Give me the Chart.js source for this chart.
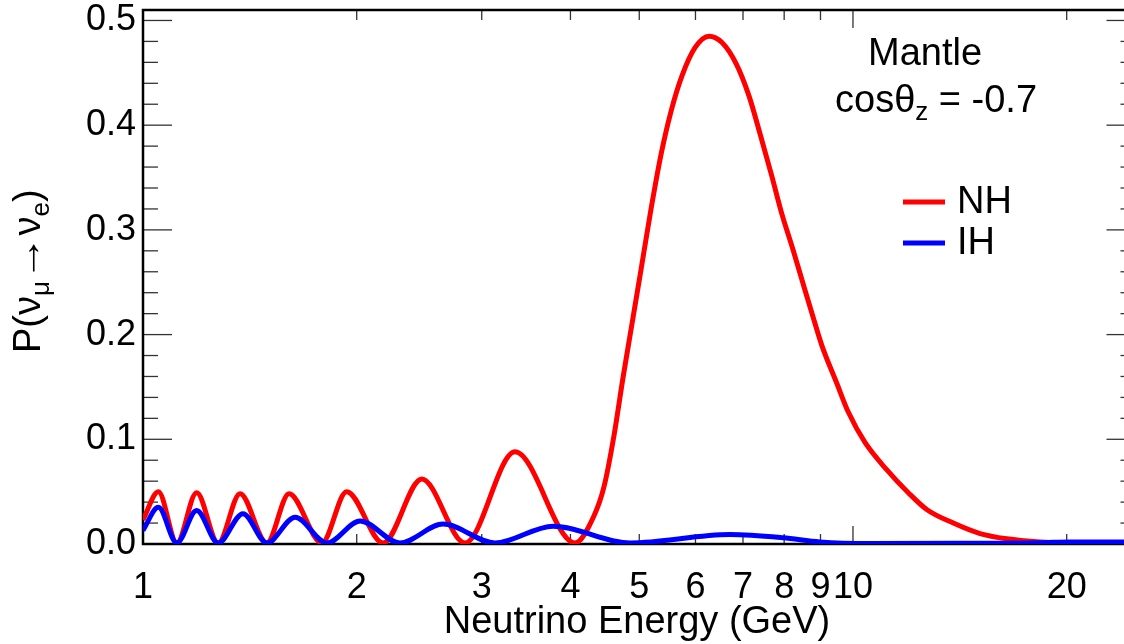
<!DOCTYPE html>
<html>
<head>
<meta charset="utf-8">
<script src="https://cdn.jsdelivr.net/npm/chart.js@4.4.1/dist/chart.umd.min.js"></script>
<style>
html, body { margin: 0; padding: 0; overflow: hidden; background: #fff; }
#wrap { width: 1150px; height: 644px; }
</style>
</head>
<body>
<div id="wrap"><canvas id="prob" width="1150" height="644"></canvas></div>
<script>
// Normal hierarchy (red)
const nhEnergy = [1.0, 1.051, 1.116, 1.190, 1.276, 1.370, 1.494, 1.606, 1.786, 1.936, 2.178, 2.470, 2.842, 3.341, 4.060,
    4.318, 4.461, 4.608, 4.744, 4.869, 5.029, 5.195, 5.366, 5.542, 5.743, 5.991, 6.269, 6.539, 6.843, 7.137, 7.396,
    7.681, 7.934, 8.225, 8.511, 8.775, 9.036, 9.483, 9.849, 10.397, 11.155, 11.965, 12.701, 13.847, 15.100, 16.465,
    18.341, 20.215, 25];
const nhProb = [0.023, 0.050, 0.001, 0.049, 0.001, 0.048, 0.001, 0.048, 0.001, 0.050, 0.001, 0.062, 0.001, 0.088, 0.001,
    0.027, 0.055, 0.104, 0.159, 0.205, 0.262, 0.320, 0.372, 0.413, 0.447, 0.474, 0.485, 0.479, 0.459, 0.428, 0.392,
    0.352, 0.316, 0.282, 0.248, 0.218, 0.190, 0.154, 0.126, 0.097, 0.071, 0.049, 0.033, 0.020, 0.010, 0.005,
    0.002, 0.001, 0.001];

// Inverted hierarchy (blue)
const ihEnergy = [1.0, 1.051, 1.116, 1.190, 1.276, 1.383, 1.494, 1.638, 1.815, 2.022, 2.301, 2.646, 3.131, 3.781,
    4.853, 6.711, 7.970, 8.980, 10.57, 14.15, 18.34, 20.2, 25];
const ihProb = [0.013, 0.035, 0.001, 0.032, 0.001, 0.029, 0.001, 0.0255, 0.001, 0.022, 0.001, 0.019, 0.001, 0.017,
    0.001, 0.009, 0.006, 0.002, 0.0005, 0.0007, 0.0012, 0.002, 0.002];

const xTickValues = [1, 2, 3, 4, 5, 6, 7, 8, 9, 10, 20];
const yTickValues = [0, 0.1, 0.2, 0.3, 0.4, 0.5];

const FONT = "'Liberation Sans', Arial, Helvetica, sans-serif";

function toPoints(xs, ys) {
    return xs.map((x, i) => ({ x: x, y: ys[i] }));
}

// ROOT-like frame with inward ticks, titles, labels and legend
const rootStyle = {
    id: 'rootStyle',
    beforeDatasetsDraw(chart) {
        const { ctx, chartArea: a, scales } = chart;
        const xs = scales.x, ys = scales.y;
        const seg = (x1, y1, x2, y2) => { ctx.beginPath(); ctx.moveTo(x1, y1); ctx.lineTo(x2, y2); ctx.stroke(); };
        ctx.save();
        ctx.strokeStyle = '#333';
        ctx.lineWidth = 1.3;
        for (let i = 0; i <= 25; i++) {
            const py = ys.getPixelForValue(i * 0.02);
            const len = i % 5 === 0 ? 29 : 15;
            seg(a.left, py, a.left + len, py);
            seg(a.right, py, a.right - len, py);
        }
        xTickValues.forEach(v => {
            const px = xs.getPixelForValue(v);
            const len = v === 10 ? 18 : 10;
            seg(px, a.bottom, px, a.bottom - len);
            seg(px, a.top, px, a.top + len);
        });
        ctx.strokeStyle = '#000';
        ctx.lineWidth = 2.5;
        ctx.strokeRect(a.left, a.top, a.right - a.left, a.bottom - a.top);
        ctx.restore();
    },
    afterDraw(chart) {
        const ctx = chart.ctx;
        const big = '38px ' + FONT, small = '26px ' + FONT;
        ctx.save();
        ctx.fillStyle = '#000';
        ctx.textBaseline = 'alphabetic';
        ctx.textAlign = 'left';

        // x title
        ctx.font = big;
        ctx.textAlign = 'center';
        ctx.fillText('Neutrino Energy (GeV)', 637, 633);
        ctx.textAlign = 'left';

        // y title with subscripts, long arrow stretched
        ctx.save();
        ctx.translate(40, 353);
        ctx.rotate(-Math.PI / 2);
        let x = 0;
        const parts = [['P(\u03bd', big, 0, 1], ['\u03bc', small, 9, 1], ['\u2192', big, 0, 1.2], ['\u03bd', big, 0, 1],
            ['e', small, 9, 1], [')', big, 0, 1]];
        parts.forEach(p => {
            ctx.font = p[1];
            ctx.save();
            ctx.translate(x, p[2]);
            ctx.scale(p[3], 1);
            ctx.fillText(p[0], 0, 0);
            ctx.restore();
            x += ctx.measureText(p[0]).width * p[3];
        });
        ctx.restore();

        // annotation
        ctx.font = big;
        ctx.fillText('Mantle', 868, 65);
        x = 835;
        [['cos\u03b8', big, 0], ['z', small, 8], [' = -0.7', big, 0]].forEach(p => {
            ctx.font = p[1];
            ctx.fillText(p[0], x, 112 + p[2]);
            x += ctx.measureText(p[0]).width;
        });

        // legend
        ctx.lineWidth = 5;
        ctx.strokeStyle = '#ff0000';
        ctx.beginPath(); ctx.moveTo(903, 202); ctx.lineTo(945, 202); ctx.stroke();
        ctx.strokeStyle = '#0000ff';
        ctx.beginPath(); ctx.moveTo(903, 243); ctx.lineTo(945, 243); ctx.stroke();
        ctx.font = big;
        ctx.fillText('NH', 957, 213);
        ctx.fillText('IH', 957, 254);
        ctx.restore();
    }
};

new Chart(document.getElementById('prob'), {
    type: 'line',
    data: {
        datasets: [
            {
                label: 'NH',
                data: toPoints(nhEnergy, nhProb),
                borderColor: '#ff0000',
                borderWidth: 5,
                pointRadius: 0,
                cubicInterpolationMode: 'monotone',
                order: 2
            },
            {
                label: 'IH',
                data: toPoints(ihEnergy, ihProb),
                borderColor: '#0000ff',
                borderWidth: 5,
                pointRadius: 0,
                cubicInterpolationMode: 'monotone',
                order: 1
            }
        ]
    },
    options: {
        responsive: false,
        animation: false,
        events: [],
        layout: { autoPadding: false, padding: { top: 10, right: 14.5, left: 0, bottom: 0 } },
        plugins: { legend: { display: false }, tooltip: { enabled: false } },
        scales: {
            x: {
                type: 'logarithmic',
                min: 1,
                max: 25,
                grid: { display: false, drawTicks: false },
                border: { display: false },
                afterBuildTicks: scale => { scale.ticks = xTickValues.map(v => ({ value: v })); },
                afterFit: scale => { scale.height = 100; scale.paddingLeft = 0; scale.paddingRight = 0; },
                ticks: {
                    autoSkip: false,
                    maxRotation: 0,
                    padding: 22,
                    color: '#000',
                    font: { family: FONT, size: 36 },
                    callback: v => String(v)
                }
            },
            y: {
                min: 0,
                max: 0.51,
                grid: { display: false, drawTicks: false },
                border: { display: false },
                afterBuildTicks: scale => { scale.ticks = yTickValues.map(v => ({ value: v })); },
                afterFit: scale => { scale.width = 143; scale.paddingTop = 0; scale.paddingBottom = 0; },
                ticks: {
                    padding: 7,
                    color: '#000',
                    font: { family: FONT, size: 36 },
                    callback: v => v.toFixed(1)
                }
            }
        }
    },
    plugins: [rootStyle]
});
</script>
</body>
</html>
